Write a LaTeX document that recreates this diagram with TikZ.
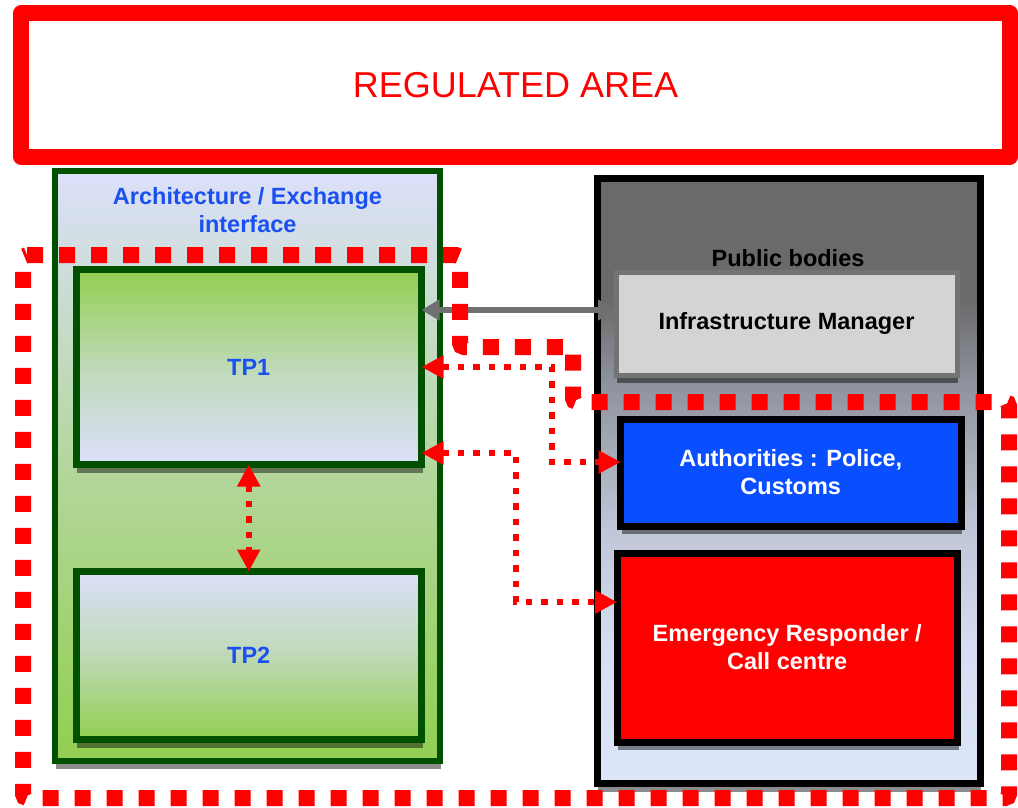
\documentclass[tikz,border=0pt]{standalone}
\usepackage{fontspec}
\setmainfont{Liberation Sans}
\usetikzlibrary{calc}
\usetikzlibrary{arrows.meta}
\usetikzlibrary{shadows}

\definecolor{regred}{HTML}{FF0000}
\definecolor{boxgreen}{HTML}{005000}
\definecolor{lavender}{HTML}{DCE0FA}
\definecolor{leafgreen}{HTML}{92CF50}
\definecolor{titleblue}{HTML}{1A50F0}
\definecolor{authblue}{HTML}{0A4FFF}
\definecolor{pubgray}{HTML}{6A6A6A}
\definecolor{pubsteel}{HTML}{8E939E}
\definecolor{pubmid}{HTML}{C0C6D6}
\definecolor{publight}{HTML}{D5DEF2}
\definecolor{pubblue}{HTML}{DCE6F8}
\definecolor{imgray}{HTML}{D4D4D4}
\definecolor{imedge}{HTML}{737373}
\definecolor{linkgray}{HTML}{707070}

% Public bodies background: dark on top, fading to pale blue.
\pgfdeclareverticalshading{publicfade}{100bp}{color(0bp)=(pubblue); color(25bp)=(pubblue);
  color(36bp)=(publight); color(46bp)=(pubmid); color(58bp)=(pubsteel);
  color(65bp)=(pubgray); color(100bp)=(pubgray)}

\tikzset{
  boxshadow/.style={drop shadow={shadow xshift=1pt,shadow yshift=-8pt,fill=black,opacity=.45}},
  box/.style={rectangle, outer sep=0pt, inner sep=0pt, align=center,
    font=\bfseries\fontsize{23.5}{28}\selectfont},
  regbox/.style={box, draw=regred, line width=16pt, line join=round, text=regred,
    minimum width=989pt, minimum height=143pt, font=\fontsize{36}{40}\selectfont},
  archbox/.style={box, boxshadow, draw=boxgreen, line width=6pt,
    minimum width=385pt, minimum height=590pt},
  tpbox/.style={box, boxshadow, draw=boxgreen, line width=7pt, text=titleblue,
    minimum width=345.5pt},
  pubbox/.style={box, boxshadow, draw=black, line width=7pt, shading=publicfade,
    minimum width=383pt, minimum height=605pt},
  bodybox/.style={box, boxshadow, draw=black, line width=7pt, text=white,
    minimum width=340.5pt},
  graylink/.style={draw=linkgray, line width=6pt,
    {Triangle[length=18pt,width=20pt]}-{Triangle[length=18pt,width=20pt]}},
  reddots/.style={draw=regred, line width=6.5pt, dash pattern=on 6.5pt off 9pt,
    {Triangle[length=22pt,width=22pt]}-{Triangle[length=22pt,width=22pt]}},
  regzone/.style={draw=regred, line width=16pt, dash pattern=on 16pt off 16pt,
    rounded corners=4pt}
}

\begin{document}
\begin{tikzpicture}[x=1pt,y=-1pt]
  \useasboundingbox (0,0) rectangle (1018,808);
  % Banner.
  \node[regbox] (regulated) at (515.5,85) {REGULATED AREA};
  % Architecture side.
  \node[archbox, top color=lavender, bottom color=leafgreen,
    middle color=lavender!45!leafgreen] (arch) at (247.5,466) {};
  \node[box, text=titleblue] (archtitle) at (247.5,210) {Architecture / Exchange\\interface};
  \node[tpbox, minimum height=195pt, top color=leafgreen, bottom color=lavender,
    middle color=lavender!60!leafgreen] (tp1) at (248.75,367) {TP1};
  \node[tpbox, minimum height=168pt, top color=lavender, bottom color=leafgreen,
    middle color=lavender!60!leafgreen] (tp2) at (248.75,655.5) {TP2};
  % Public bodies side.
  \node[pubbox] (public) at (788.5,481) {};
  \node[box, text=black] (pubtitle) at (788,258) {Public bodies};
  \node[box, boxshadow, draw=imedge, line width=5pt, fill=imgray,
    minimum width=341pt, minimum height=103pt] (im) at (786.5,323.5) {Infrastructure Manager};
  \node[bodybox, fill=authblue, minimum height=107pt] (auth) at (790.75,472.5)
    {Authorities : Police,\\Customs};
  \node[bodybox, fill=regred, minimum height=189pt] (emerg) at (787.25,647.5)
    {Emergency Responder /\\Call centre};
  % Links.
  \coordinate (imlink) at ($(tp1.east)+(0,-57)$);
  \draw[graylink] (imlink) -- (imlink -| im.west);
  \draw[reddots] (tp1.east) -| ($(auth.west)+(-68.5,-10.5)$) -- ($(auth.west)+(0,-10.5)$);
  \draw[reddots] ($(tp1.south east)+(0,-11.5)$) -| ($(emerg.west)+(-101,-45.5)$)
    -- ($(emerg.west)+(0,-45.5)$);
  \draw[reddots] (tp1.south) -- (tp2.north);
  % Regulated zone.
  \draw[regzone] (23,255) -- (460,255) -- (460,347) -- (573,347) -- (573,402)
    -- (1009,402) -- (1009,798) -- (23,798) -- cycle;
\end{tikzpicture}
\end{document}
